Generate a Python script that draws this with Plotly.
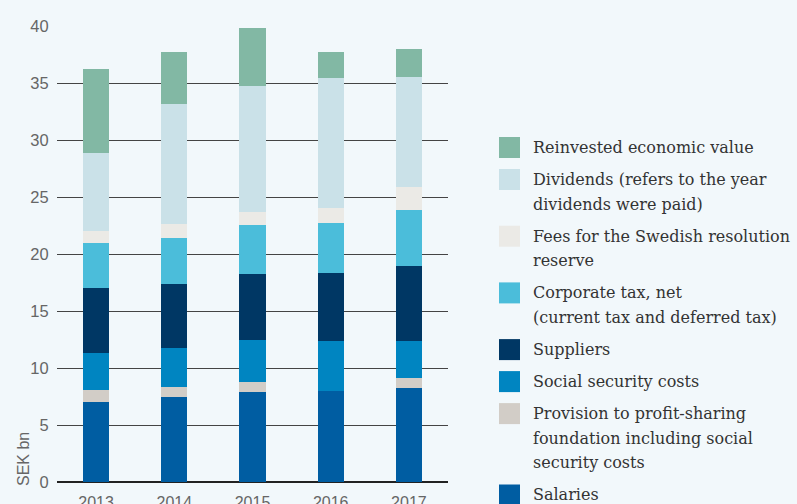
import plotly.graph_objects as go

years = ["2013", "2014", "2015", "2016", "2017"]

# SEK bn, stacked bottom -> top
salaries = [7.04, 7.47, 7.91, 8.00, 8.26]
provision = [1.05, 0.88, 0.88, 0.00, 0.88]
social_security = [3.24, 3.42, 3.68, 4.38, 3.24]
suppliers = [5.69, 5.60, 5.78, 5.96, 6.57]
corporate_tax = [3.94, 4.03, 4.29, 4.38, 4.90]
fees_resolution = [1.05, 1.23, 1.14, 1.31, 2.02]
dividends = [6.84, 10.51, 11.04, 11.39, 9.63]
reinvested = [7.35, 4.55, 5.08, 2.27, 2.46]

series_names = [
    "Salaries",
    "Provision to profit-sharing<br>foundation including social<br>security costs",
    "Social security costs",
    "Suppliers",
    "Corporate tax, net<br>(current tax and deferred tax)",
    "Fees for the Swedish resolution<br>reserve",
    "Dividends (refers to the year<br>dividends were paid)",
    "Reinvested economic value",
]
series_values = [salaries, provision, social_security, suppliers,
                 corporate_tax, fees_resolution, dividends, reinvested]
colors = ["#005da2", "#d2cdc7", "#0085c1", "#003764",
          "#4bbdda", "#ebeae6", "#cae1e8", "#82b8a4"]

W, H = 797, 504
ML, MR, MT, MB = 57, 349, 26, 22
BG = "#f2f8fb"

fig = go.Figure()
for name, vals, col in zip(series_names, series_values, colors):
    fig.add_trace(go.Bar(
        x=years, y=vals, name=name.replace("<br>", " "),
        marker=dict(color=col, line=dict(width=0)),
        showlegend=False,
    ))

def px_x(px):
    return (px - ML) / (W - ML - MR)

def px_y(py):
    return (H - MB - py) / (H - MT - MB)

# Custom legend (top item = last series)
shapes = []
annotations = []
line_step = 24.7
item_gap = 32
y_cur = 147.5
for name, col in list(zip(series_names, colors))[::-1]:
    lines = name.split("<br>")
    shapes.append(dict(
        type="rect", xref="paper", yref="paper",
        x0=px_x(499), x1=px_x(520), y0=px_y(y_cur + 10.5), y1=px_y(y_cur - 10.5),
        fillcolor=col, line=dict(width=0), layer="above",
    ))
    for k, ln in enumerate(lines):
        annotations.append(dict(
            xref="paper", yref="paper", x=px_x(531), y=px_y(y_cur + k * line_step),
            xanchor="left", yanchor="middle", text=ln, showarrow=False,
            font=dict(family="DejaVu Serif", size=16, color="#333333"),
        ))
    y_cur += item_gap + line_step * (len(lines) - 1)

annotations.append(dict(
    xref="paper", yref="paper", x=px_x(24), y=px_y(488),
    xanchor="center", yanchor="bottom", text="SEK bn", textangle=-90,
    showarrow=False, font=dict(family="Liberation Sans", size=16, color="#666666"),
))

fig.update_layout(
    width=W, height=H,
    margin=dict(l=ML, r=MR, t=MT, b=MB, pad=0, autoexpand=False),
    paper_bgcolor=BG, plot_bgcolor=BG,
    barmode="stack", bargap=0.667,
    font=dict(family="Liberation Sans", size=16, color="#666666"),
    shapes=shapes, annotations=annotations,
    xaxis=dict(showgrid=False, showline=False, zeroline=False, automargin=False,
               ticks="outside", ticklen=6, tickcolor="rgba(0,0,0,0)",
               tickfont=dict(size=16, color="#666666"), fixedrange=True),
    yaxis=dict(range=[0, 40], dtick=5, showgrid=True, gridcolor="#444444", gridwidth=1.2,
               zeroline=True, zerolinecolor="#222222", zerolinewidth=2, automargin=False,
               showline=False, ticks="outside", ticklen=4, tickcolor="rgba(0,0,0,0)",
               tickfont=dict(size=16.5, color="#666666"), fixedrange=True),
)

fig.write_html(
    "out.html",
    config={"displayModeBar": False},
    post_script="document.body.style.margin='0';document.body.style.background='%s';" % BG,
)
